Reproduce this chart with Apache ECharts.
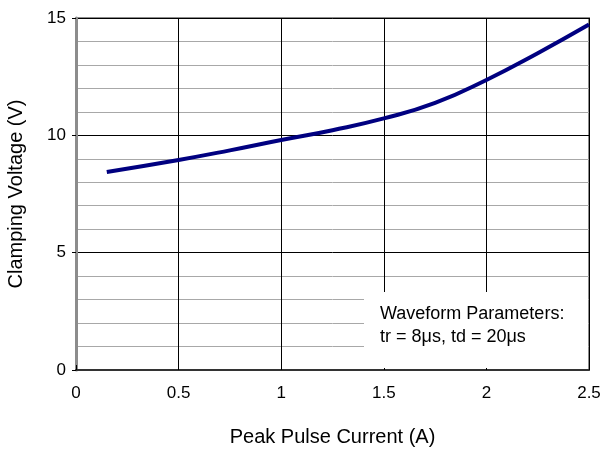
<!DOCTYPE html>
<html lang="en">
  <head>
    <meta charset="UTF-8" />
    <title>Clamping Voltage vs Peak Pulse Current</title>
    <style>
      html, body { margin: 0; width: 100%; height: 100%; background: #fff; }
      #chart { width: 602px; height: 453px; }
    </style>
    <script src="https://cdn.jsdelivr.net/npm/echarts@6/dist/echarts.min.js"></script>
  </head>
  <body>
    <div id="chart"></div>
    <script>
      // current (A) vs clamping voltage (V)
      const current = [0.15, 0.5, 0.75, 1.0, 1.25, 1.5, 1.75, 2.0, 2.25, 2.5]
      const voltage = [8.44, 8.95, 9.36, 9.8, 10.22, 10.72, 11.38, 12.36, 13.5, 14.72]
      const xTicks = [0, 0.5, 1, 1.5, 2, 2.5]
      const yTicks = [0, 5, 10, 15]
      const note = ['Waveform Parameters:', 'tr = 8μs, td = 20μs']

      const chart = echarts.init(document.getElementById('chart'))
      const font = 'Liberation Sans, Arial, sans-serif'

      const options = {
        animation: false,
        grid: {
          left: 76,
          right: 13,
          top: 18,
          bottom: 83,
          outerBoundsMode: 'none',
          show: true,
          borderColor: '#8c8c8c',
          borderWidth: 2
        },
        xAxis: {
          type: 'value',
          min: xTicks[0],
          max: xTicks[xTicks.length - 1],
          interval: 0.5,
          name: 'Peak Pulse Current (A)',
          nameLocation: 'middle',
          nameGap: 57,
          nameTextStyle: { fontFamily: font, fontSize: 20, color: '#000' },
          axisLine: { lineStyle: { color: '#333', width: 2 } },
          axisTick: { inside: true, length: 5, lineStyle: { color: '#000' } },
          axisLabel: { fontFamily: font, fontSize: 17, color: '#000', margin: 15 },
          splitLine: { lineStyle: { color: '#000', width: 1 } }
        },
        yAxis: {
          type: 'value',
          min: yTicks[0],
          max: yTicks[yTicks.length - 1],
          interval: 5,
          name: 'Clamping Voltage (V)',
          nameLocation: 'middle',
          nameGap: 50,
          nameTextStyle: { fontFamily: font, fontSize: 20, color: '#000' },
          axisLine: { show: true, lineStyle: { color: '#8c8c8c', width: 3 } },
          axisTick: { show: true, length: 4, lineStyle: { color: '#000' } },
          axisLabel: { fontFamily: font, fontSize: 17, color: '#000', margin: 10 },
          splitLine: { lineStyle: { color: '#000', width: 1 } },
          minorTick: { show: false, splitNumber: 5 },
          minorSplitLine: { show: true, lineStyle: { color: '#a8a8a8', width: 1 } }
        },
        graphic: [
          {
            type: 'rect',
            shape: { x: 364, y: 292, width: 224, height: 76 },
            style: { fill: '#fff' },
            z: 5
          },
          {
            type: 'text',
            left: 380,
            top: 303,
            style: {
              text: note.join('\n'),
              font: '18px ' + font,
              fill: '#000',
              lineHeight: 23
            },
            z: 6
          }
        ],
        series: [
          {
            type: 'line',
            smooth: true,
            symbol: 'none',
            lineStyle: { color: '#000080', width: 4 },
            data: current.map((c, i) => [c, voltage[i]]),
            z: 4
          }
        ]
      }
      chart.setOption(options)
    </script>
  </body>
</html>
